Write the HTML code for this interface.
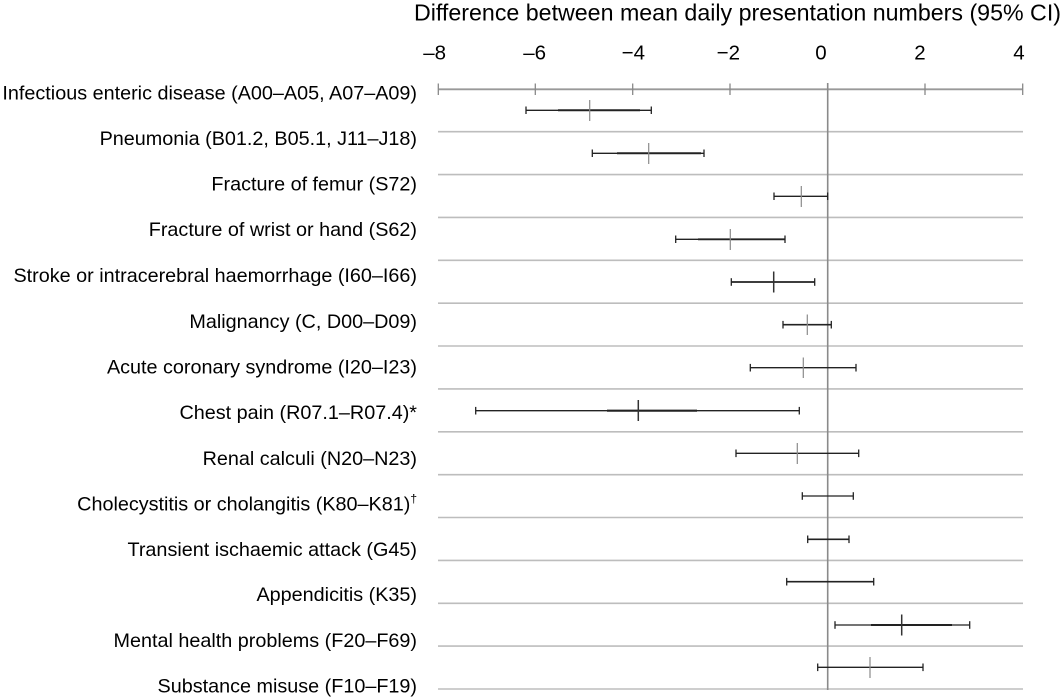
<!DOCTYPE html>
<html>
<head>
<meta charset="utf-8">
<style>
html,body{margin:0;padding:0;background:#fff;}
svg{display:block;}
text{font-family:"Liberation Sans",Arial,sans-serif;fill:#000;}
</style>
</head>
<body>
<svg width="1064" height="699" viewBox="0 0 1064 699" xmlns="http://www.w3.org/2000/svg">
  <!-- Title -->
  <text x="414" y="20.5" font-size="23" textLength="647" lengthAdjust="spacingAndGlyphs">Difference between mean daily presentation numbers (95% CI)</text>

  <!-- Tick labels -->
  <g font-size="20.5">
    <text x="446" y="59.3" text-anchor="end">–8</text>
    <text x="546" y="59.3" text-anchor="end">–6</text>
    <text x="645" y="59.3" text-anchor="end">−4</text>
    <text x="740" y="59.3" text-anchor="end">−2</text>
    <text x="821" y="59.3" text-anchor="middle">0</text>
    <text x="920" y="59.3" text-anchor="middle">2</text>
    <text x="1019" y="59.3" text-anchor="middle">4</text>
  </g>

  <!-- Row separator lines -->
  <g stroke="#bdbdbd" stroke-width="1.6">
    <line x1="438" x2="1023" y1="131.7" y2="131.7"/>
    <line x1="438" x2="1023" y1="174.6" y2="174.6"/>
    <line x1="438" x2="1023" y1="217.4" y2="217.4"/>
    <line x1="438" x2="1023" y1="260.3" y2="260.3"/>
    <line x1="438" x2="1023" y1="303.2" y2="303.2"/>
    <line x1="438" x2="1023" y1="346.0" y2="346.0"/>
    <line x1="438" x2="1023" y1="388.9" y2="388.9"/>
    <line x1="438" x2="1023" y1="431.8" y2="431.8"/>
    <line x1="438" x2="1023" y1="474.7" y2="474.7"/>
    <line x1="438" x2="1023" y1="517.5" y2="517.5"/>
    <line x1="438" x2="1023" y1="560.4" y2="560.4"/>
    <line x1="438" x2="1023" y1="603.3" y2="603.3"/>
    <line x1="438" x2="1023" y1="646.1" y2="646.1"/>
    <line x1="438" x2="1023" y1="689.0" y2="689.0"/>
  </g>

  <!-- Axis -->
  <g stroke="#999" stroke-width="1.8">
    <line x1="438" x2="1023" y1="89.3" y2="89.3"/>
  </g>
  <g stroke="#888" stroke-width="1.3">
    <line x1="438.3" x2="438.3" y1="83.5" y2="95"/>
    <line x1="535.3" x2="535.3" y1="83.5" y2="95"/>
    <line x1="632.7" x2="632.7" y1="83.5" y2="95"/>
    <line x1="730" x2="730" y1="83.5" y2="95"/>
    <line x1="925" x2="925" y1="83.5" y2="95"/>
    <line x1="1022.7" x2="1022.7" y1="83.5" y2="95"/>
  </g>
  <!-- Zero line -->
  <line x1="827.7" x2="827.7" y1="83" y2="690" stroke="#8a8a8a" stroke-width="1.6"/>

  <!-- Error bars -->
  <g stroke="#222" stroke-width="1.3" fill="none">
    <!-- 1 -->
    <line x1="526" x2="651.3" y1="110.3" y2="110.3"/>
    <line x1="558" x2="640" y1="110.3" y2="110.3" stroke-width="2"/>
    <line x1="526" x2="526" y1="106.5" y2="114"/>
    <line x1="651.3" x2="651.3" y1="106.5" y2="114"/>
    <!-- 2 -->
    <line x1="592.3" x2="704" y1="153.3" y2="153.3"/>
    <line x1="617" x2="701" y1="153.3" y2="153.3" stroke-width="2"/>
    <line x1="592.3" x2="592.3" y1="149.5" y2="157"/>
    <line x1="704" x2="704" y1="149.5" y2="157"/>
    <!-- 3 -->
    <line x1="774" x2="827.7" y1="196.3" y2="196.3"/>
    <line x1="774" x2="774" y1="192.5" y2="200"/>
    <line x1="827.7" x2="827.7" y1="192.5" y2="200"/>
    <!-- 4 -->
    <line x1="675.7" x2="785" y1="239.3" y2="239.3"/>
    <line x1="698" x2="785" y1="239.3" y2="239.3" stroke-width="1.8"/>
    <line x1="675.7" x2="675.7" y1="235.5" y2="243"/>
    <line x1="785" x2="785" y1="235.5" y2="243"/>
    <!-- 5 -->
    <line x1="731.3" x2="814.7" y1="282" y2="282" stroke-width="1.7"/>
    <line x1="731.3" x2="731.3" y1="278.2" y2="285.8"/>
    <line x1="814.7" x2="814.7" y1="278.2" y2="285.8"/>
    <!-- 6 -->
    <line x1="783" x2="831.3" y1="324.7" y2="324.7" stroke-width="1.6"/>
    <line x1="783" x2="783" y1="320.9" y2="328.5"/>
    <line x1="831.3" x2="831.3" y1="320.9" y2="328.5"/>
    <!-- 7 -->
    <line x1="750.3" x2="856" y1="367.7" y2="367.7"/>
    <line x1="750.3" x2="750.3" y1="363.9" y2="371.5"/>
    <line x1="856" x2="856" y1="363.9" y2="371.5"/>
    <!-- 8 -->
    <line x1="475.7" x2="799.3" y1="410.7" y2="410.7"/>
    <line x1="607" x2="697" y1="410.7" y2="410.7" stroke-width="2.2"/>
    <line x1="475.7" x2="475.7" y1="406.9" y2="414.5"/>
    <line x1="799.3" x2="799.3" y1="406.9" y2="414.5"/>
    <!-- 9 -->
    <line x1="736" x2="858.7" y1="453.3" y2="453.3"/>
    <line x1="736" x2="736" y1="449.5" y2="457.1"/>
    <line x1="858.7" x2="858.7" y1="449.5" y2="457.1"/>
    <!-- 10 -->
    <line x1="802.3" x2="853.3" y1="496" y2="496"/>
    <line x1="802.3" x2="802.3" y1="492.2" y2="499.8"/>
    <line x1="853.3" x2="853.3" y1="492.2" y2="499.8"/>
    <!-- 11 -->
    <line x1="807.7" x2="849" y1="539.3" y2="539.3" stroke-width="1.6"/>
    <line x1="807.7" x2="807.7" y1="535.5" y2="543.1"/>
    <line x1="849" x2="849" y1="535.5" y2="543.1"/>
    <!-- 12 -->
    <line x1="786.7" x2="873.7" y1="581.7" y2="581.7" stroke-width="1.6"/>
    <line x1="786.7" x2="786.7" y1="577.9" y2="585.5"/>
    <line x1="873.7" x2="873.7" y1="577.9" y2="585.5"/>
    <!-- 13 -->
    <line x1="835" x2="969.7" y1="625" y2="625"/>
    <line x1="871" x2="952" y1="625" y2="625" stroke-width="2"/>
    <line x1="835" x2="835" y1="621.2" y2="628.8"/>
    <line x1="969.7" x2="969.7" y1="621.2" y2="628.8"/>
    <!-- 14 -->
    <line x1="817.7" x2="923" y1="667.3" y2="667.3"/>
    <line x1="817.7" x2="817.7" y1="663.5" y2="671.1"/>
    <line x1="923" x2="923" y1="663.5" y2="671.1"/>
  </g>

  <!-- Point estimate ticks -->
  <g stroke="#8a8a8a" stroke-width="1.2">
    <line x1="589.7" x2="589.7" y1="100" y2="121"/>
    <line x1="648.7" x2="648.7" y1="143" y2="164"/>
    <line x1="801.3" x2="801.3" y1="186" y2="207"/>
    <line x1="730.3" x2="730.3" y1="229" y2="250"/>
    <line x1="807.3" x2="807.3" y1="314.5" y2="335"/>
    <line x1="803.3" x2="803.3" y1="357.5" y2="378"/>
    <line x1="797.3" x2="797.3" y1="443" y2="464"/>
    <line x1="870" x2="870" y1="657" y2="678"/>
  </g>
  <g stroke="#333" stroke-width="1.5">
    <line x1="773.7" x2="773.7" y1="271.5" y2="292.5"/>
    <line x1="638.3" x2="638.3" y1="400" y2="421"/>
    <line x1="901.7" x2="901.7" y1="614.5" y2="635.5"/>
  </g>

  <!-- Row labels -->
  <g font-size="19.8" text-anchor="end">
    <text x="417" y="99.4">Infectious enteric disease (A00–A05, A07–A09)</text>
    <text x="417" y="145.0">Pneumonia (B01.2, B05.1, J11–J18)</text>
    <text x="417" y="190.6">Fracture of femur (S72)</text>
    <text x="417" y="236.2">Fracture of wrist or hand (S62)</text>
    <text x="417" y="281.8">Stroke or intracerebral haemorrhage (I60–I66)</text>
    <text x="417" y="327.8">Malignancy (C, D00–D09)</text>
    <text x="417" y="373.6">Acute coronary syndrome (I20–I23)</text>
    <text x="417" y="419.2">Chest pain (R07.1–R07.4)*</text>
    <text x="417" y="464.8">Renal calculi (N20–N23)</text>
    <text x="417" y="510.4">Cholecystitis or cholangitis (K80–K81)<tspan font-size="12" dy="-8">†</tspan></text>
    <text x="417" y="556.0">Transient ischaemic attack (G45)</text>
    <text x="417" y="601.2">Appendicitis (K35)</text>
    <text x="417" y="646.8">Mental health problems (F20–F69)</text>
    <text x="417" y="692.3">Substance misuse (F10–F19)</text>
  </g>
</svg>
</body>
</html>
